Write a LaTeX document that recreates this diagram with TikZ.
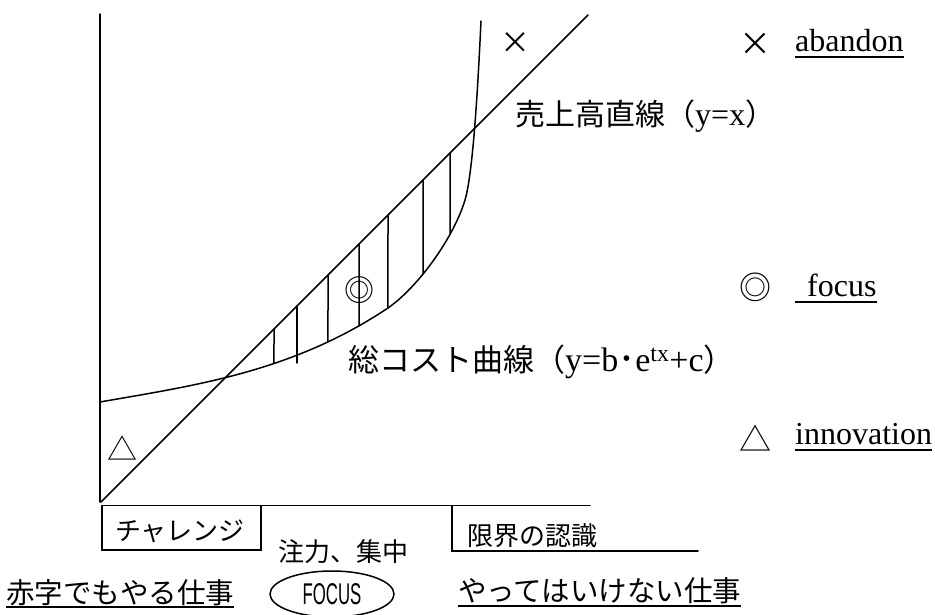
\documentclass[tikz,border=0pt]{standalone}
\usepackage{fontspec}
\setmainfont{Liberation Serif}
\newfontfamily\jp{Noto Sans CJK JP}
\newfontfamily\lsans{Liberation Sans}
\usetikzlibrary{shapes.geometric,intersections}
\newcommand\cj[1]{{\jp\fontsize{30}{36}\selectfont #1}}
\newcommand\cjb[1]{{\jp\fontsize{31}{36}\selectfont #1}}
\begin{document}
\begin{tikzpicture}[x=1pt,y=-1pt,
  ln/.style={line width=1.5pt, line cap=round},
  ul/.style={line width=1.5pt},
  lat/.style={font=\fontsize{32}{38}\selectfont, inner sep=0, anchor=base west},
  latb/.style={font=\fontsize{34}{40}\selectfont, inner sep=0, anchor=base west},
  jlab/.style={font=\jp\fontsize{26}{30}\selectfont, inner sep=0, anchor=base west},
  jgo/.style={font=\jp\fontsize{28.5}{34}\selectfont, inner sep=0, anchor=base west},
  sym/.style={font=\jp\fontsize{30}{36}\selectfont, inner sep=0, anchor=center},
  symr/.style={font=\jp\fontsize{32}{38}\selectfont, inner sep=0, anchor=center}]
\useasboundingbox (0,0) rectangle (935,615);
\fill[white] (0,0) rectangle (935,615);

% axes
\coordinate (ytop) at (100,14);
\coordinate (orig) at (100,502);
\coordinate (xl) at (102,505.5);
\coordinate (xr) at (590,505.5);
\draw[ln] (ytop) -- (orig);
\draw[ln] (xl) -- (xr);

% sales line y = x
\coordinate (s0) at (101,502);
\coordinate (s1) at (588,15);
\draw[ln] (s0) -- (s1);

% total cost curve
\draw[ln, name path=cost] (100,402) .. controls (196,385.2) and (292,372) .. (388,308)
  .. controls (418,287) and (453.4,238.4) .. (465,200)
  .. controls (473.7,171) and (478.6,71) .. (481,21);

% hatching
\foreach \hx in {274, 328, 359, 388, 423, 450}{
  \path[name path=vl\hx] (\hx,0) -- (\hx,615);
  \draw[ln, name intersections={of=cost and vl\hx}] (\hx,{603-\hx}) -- (intersection-1);
}
\draw[ln] (297,306) -- (297,363);

% symbols in the plot
\node[sym] (xmark) at (515,43) {×};
\node[sym] (dmark) at (359,290) {◎};
\node[sym] (tmark) at (122,448) {△};

% curve labels
\node[lat] (sales) at (515,126) {\cj{売上高直線（}y=x\cj{）}};
\node[latb] (cost) at (348,371) {\cjb{総コスト曲線（}y=b{\jp ･}e\textsuperscript{tx}+c\cjb{）}};

% legend
\node[symr] (lx) at (755,44) {×};
\node[lat] (ab) at (795,52) {abandon};
\draw[ul] ([yshift=-5pt]ab.base west) -- ([yshift=-5pt]ab.base east);
\node[symr] (ld) at (755,287) {◎};
\node[lat] (fo) at (795,296) {\hspace*{12pt}focus};
\draw[ul] ([yshift=-6pt]fo.base west) -- ([yshift=-6pt]fo.base east);
\node[symr] (lt) at (755,438) {△};
\node[lat] (inn) at (795,444) {innovation};
\draw[ul] ([yshift=-6pt]inn.base west) -- ([yshift=-6pt]inn.base east);

% bottom boxes
\coordinate (b1) at (261,550);
\draw[ln] (xl) rectangle (b1);
\coordinate (g1) at (452,505.5);
\coordinate (g2) at (452,551);
\coordinate (g3) at (698,551);
\draw[ln] (g1) -- (g2) -- (g3);
\node[jlab] (chal) at (115,540) {チャレンジ};
\node[jlab] (limit) at (467,545) {限界の認識};
\node[jlab] (conc) at (278,561) {注力、集中};

% bottom row
\node[jgo] (red) at (6,603) {赤字でもやる仕事};
\draw[ul] ([yshift=-4pt]red.base west) -- ([yshift=-4pt]red.base east);
\node[draw, ellipse, line width=1.5pt, minimum width=124pt, minimum height=46pt, inner sep=0] (focus) at (332,594) {\lsans\fontsize{30}{34}\selectfont\scalebox{0.56}[1]{FOCUS}};
\node[jgo] (notdo) at (458,601) {やってはいけない仕事};
\draw[ul] ([yshift=-5pt]notdo.base west) -- ([yshift=-5pt]notdo.base east);
\end{tikzpicture}
\end{document}
